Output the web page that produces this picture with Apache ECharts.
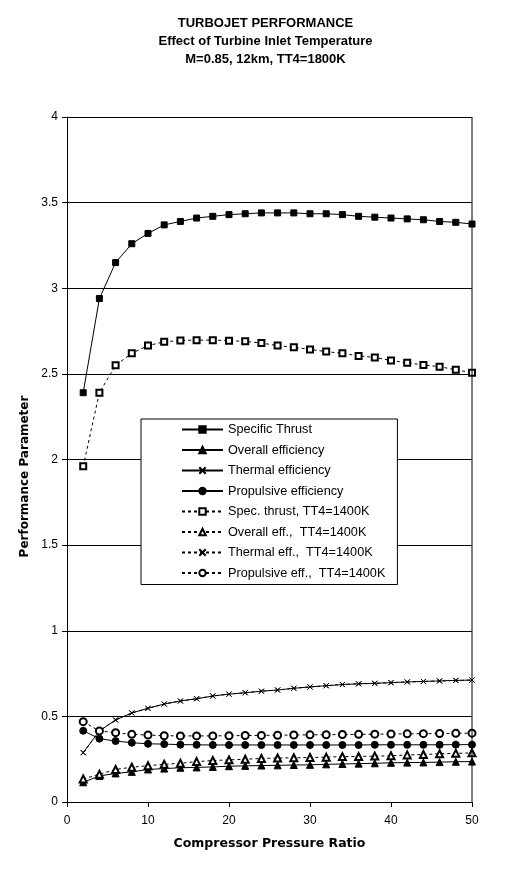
<!DOCTYPE html>
<html><head><meta charset="utf-8">
<script src="https://cdn.jsdelivr.net/npm/echarts@6/dist/echarts.min.js"></script>
<style>html,body{margin:0;padding:0;background:#fff}#c{width:531px;height:871px}</style>
</head><body><div id="c"></div>
<script>
var pressureRatio = [2,4,6,8,10,12,14,16,18,20,22,24,26,28,30,32,34,36,38,40,42,44,46,48,50];
var specThrust = [2.39,2.94,3.15,3.26,3.32,3.37,3.39,3.41,3.42,3.43,3.435,3.44,3.44,3.44,3.435,3.435,3.43,3.42,3.415,3.41,3.405,3.40,3.39,3.385,3.375];
var overallEff = [0.115,0.152,0.167,0.176,0.19,0.195,0.2,0.202,0.205,0.209,0.211,0.213,0.214,0.216,0.217,0.22,0.222,0.224,0.226,0.229,0.23,0.231,0.233,0.235,0.236];
var thermalEff = [0.288,0.415,0.479,0.52,0.547,0.572,0.59,0.603,0.619,0.63,0.638,0.647,0.654,0.664,0.672,0.679,0.686,0.69,0.693,0.697,0.701,0.704,0.707,0.71,0.712];
var propulsiveEff = [0.416,0.37,0.356,0.346,0.34,0.338,0.335,0.334,0.333,0.333,0.333,0.333,0.333,0.333,0.333,0.333,0.333,0.333,0.334,0.334,0.334,0.334,0.334,0.335,0.335];
var specThrust1400 = [1.96,2.39,2.55,2.62,2.665,2.687,2.695,2.697,2.697,2.694,2.69,2.68,2.665,2.655,2.643,2.63,2.62,2.605,2.596,2.578,2.565,2.552,2.542,2.524,2.507];
var overallEff1400 = [0.135,0.162,0.19,0.203,0.212,0.22,0.226,0.236,0.242,0.246,0.25,0.254,0.257,0.258,0.26,0.262,0.265,0.266,0.268,0.27,0.275,0.277,0.282,0.284,0.287];
var thermalEff1400 = [0.288,0.415,0.479,0.52,0.547,0.572,0.59,0.603,0.619,0.63,0.638,0.647,0.654,0.664,0.672,0.679,0.686,0.69,0.693,0.697,0.701,0.704,0.707,0.71,0.712];
var propulsiveEff1400 = [0.469,0.415,0.405,0.395,0.391,0.387,0.386,0.386,0.386,0.387,0.388,0.389,0.39,0.391,0.392,0.393,0.394,0.395,0.396,0.397,0.398,0.399,0.4,0.401,0.402];
var seriesNames = ['Specific Thrust','Overall efficiency','Thermal efficiency','Propulsive efficiency','Spec. thrust, TT4=1400K','Overall eff.,  TT4=1400K','Thermal eff.,  TT4=1400K','Propulsive eff.,  TT4=1400K'];
var titleLines = ['TURBOJET PERFORMANCE','Effect of Turbine Inlet Temperature','M=0.85, 12km, TT4=1800K'];

var FONT = '"Liberation Sans", Arial, sans-serif';
var NAMEFONT = '"DejaVu Sans", "Liberation Sans", sans-serif';
var xMark = 'path://M0,0L10,10M10,0L0,10';
function pairs(ys){ return pressureRatio.map(function(x,i){ return [x, ys[i]]; }); }
function mk(name, ys, symbol, size, dotted){
  return {
    name: name, type: 'line', data: pairs(ys), symbol: symbol, symbolSize: size,
    showSymbol: true,
    lineStyle: { color: '#000', width: 1, type: dotted ? [3,3] : 'solid' },
    itemStyle: { color: '#000', borderColor: '#000', borderWidth: 1 },
    emphasis: { disabled: true }, animation: false
  };
}
var chart = echarts.init(document.getElementById('c'));
chart.setOption({
  backgroundColor: '#fff',
  animation: false,
  title: {
    text: titleLines.join('\n'), left: 'center', top: 9,
    textStyle: { fontFamily: FONT, fontSize: 13, fontWeight: 'bold', color: '#000', lineHeight: 18 }
  },
  grid: { left: 67, right: 59, top: 117, bottom: 69 },
  xAxis: {
    type: 'value', min: 0, max: 50, interval: 10,
    name: 'Compressor Pressure Ratio', nameLocation: 'middle', nameGap: 35,
    nameTextStyle: { fontFamily: NAMEFONT, fontSize: 12.5, fontWeight: 'bold', color: '#000' },
    axisLine: { lineStyle: { color: '#000', width: 1 } },
    axisTick: { show: true, length: 5, lineStyle: { color: '#000' } },
    axisLabel: { fontFamily: FONT, fontSize: 12, color: '#000', margin: 13 },
    splitLine: { show: false }
  },
  yAxis: {
    type: 'value', min: 0, max: 4, interval: 0.5,
    name: 'Performance Parameter', nameLocation: 'middle', nameGap: 33,
    nameTextStyle: { fontFamily: NAMEFONT, fontSize: 12, fontWeight: 'bold', color: '#000', padding: [0,0,0,-34] },
    axisLine: { show: true, lineStyle: { color: '#000', width: 1 } },
    axisTick: { show: true, length: 5, lineStyle: { color: '#000' } },
    axisLabel: { fontFamily: FONT, fontSize: 12, color: '#000', margin: 9 },
    splitLine: { show: true, lineStyle: { color: '#000', width: 1 } }
  },
  graphic: [{ type: 'line', shape: { x1: 472, y1: 117, x2: 472, y2: 802 }, style: { stroke: '#000', lineWidth: 1 }, z: 10 }],
  legend: {
    orient: 'vertical', left: 141, top: 419,
    backgroundColor: '#fff', borderColor: '#000', borderWidth: 1,
    padding: [4, 12, 5, 40],
    itemWidth: 41, itemHeight: 8, itemGap: 7.5,
    textStyle: { fontFamily: FONT, fontSize: 12.7, color: '#000' },
    data: seriesNames
  },
  series: [
    mk(seriesNames[0], specThrust, 'rect', 6, false),
    mk(seriesNames[1], overallEff, 'triangle', 7, false),
    mk(seriesNames[2], thermalEff, xMark, 5, false),
    mk(seriesNames[3], propulsiveEff, 'circle', 7, false),
    mk(seriesNames[4], specThrust1400, 'emptyRect', 6, true),
    mk(seriesNames[5], overallEff1400, 'emptyTriangle', 7, true),
    mk(seriesNames[6], thermalEff1400, xMark, 5, true),
    mk(seriesNames[7], propulsiveEff1400, 'emptyCircle', 7, true)
  ]
});
</script></body></html>
